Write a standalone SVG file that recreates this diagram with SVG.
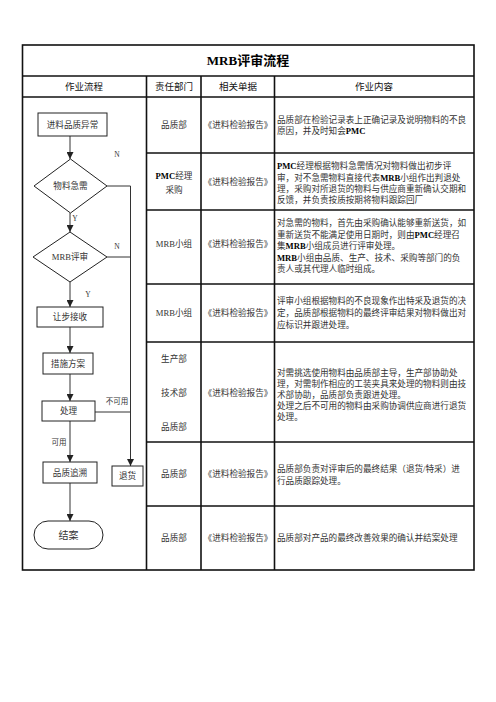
<svg xmlns="http://www.w3.org/2000/svg" width="496" height="702" viewBox="0 0 496 702">
<defs>
<marker id="ah" markerUnits="userSpaceOnUse" markerWidth="7" markerHeight="7" viewBox="0 0 7 7" refX="7" refY="3.5" orient="auto">
<path d="M0,0 L7,3.5 L0,7 Z" fill="#222"/>
</marker>
<style>
text{font-family:"Liberation Serif","Noto Sans CJK SC",serif;fill:#333;}
.t{font-size:8.6px;}
.c{text-anchor:middle;}
.hd{font-size:9.5px;text-anchor:middle;fill:#111;font-family:"Noto Sans CJK SC","Liberation Sans",sans-serif;}
.ttl{font-size:13px;font-weight:bold;text-anchor:middle;fill:#000;}
.b{font-weight:bold;fill:#000;}
.lbl{font-size:7.5px;text-anchor:middle;fill:#333;}
.box{fill:#fff;stroke:#222;stroke-width:1;}
.grid{stroke:#111;stroke-width:1.6;fill:none;}
.con{stroke:#333;stroke-width:1;fill:none;}
.ar{marker-end:url(#ah);}
</style>
</defs>
<rect x="0" y="0" width="496" height="702" fill="#fff"/>
<g id="table">
<rect x="22.5" y="45" width="451.5" height="525" class="grid" stroke-width="2"/>
<line x1="22.5" y1="76" x2="474" y2="76" class="grid"/>
<line x1="22.5" y1="97" x2="474" y2="97" class="grid"/>
<line x1="146.5" y1="76" x2="146.5" y2="570" class="grid"/>
<line x1="201" y1="76" x2="201" y2="570" class="grid"/>
<line x1="274.5" y1="76" x2="274.5" y2="570" class="grid"/>
<line x1="146.5" y1="153" x2="474" y2="153" class="grid"/>
<line x1="146.5" y1="210" x2="474" y2="210" class="grid"/>
<line x1="146.5" y1="284" x2="474" y2="284" class="grid"/>
<line x1="146.5" y1="342" x2="474" y2="342" class="grid"/>
<line x1="146.5" y1="442" x2="474" y2="442" class="grid"/>
<line x1="146.5" y1="506" x2="474" y2="506" class="grid"/>
<text x="248" y="65" class="ttl">MRB<tspan font-family="Noto Sans CJK SC">评审流程</tspan></text>
<text x="84" y="90" class="hd">作业流程</text>
<text x="174" y="90" class="hd">责任部门</text>
<text x="238" y="90" class="hd">相关单据</text>
<text x="374" y="90" class="hd">作业内容</text>
</g>
<g id="rows" class="t">
<text x="174" y="128" class="c">品质部</text>
<text x="238" y="128" class="c">《进料检验报告》</text>
<text x="277" y="123">品质部在检验记录表上正确记录及说明物料的不良</text>
<text x="277" y="134">原因，并及时知会<tspan class="b">PMC</tspan></text>

<text x="174" y="179" class="c"><tspan class="b">PMC</tspan>经理</text>
<text x="174" y="193" class="c">采购</text>
<text x="238" y="185" class="c">《进料检验报告》</text>
<text x="277" y="169"><tspan class="b">PMC</tspan>经理根据物料急需情况对物料做出初步评</text>
<text x="277" y="180.5">审，对不急需物料直接代表<tspan class="b">MRB</tspan>小组作出判退处</text>
<text x="277" y="192">理，采购对所退货的物料与供应商重新确认交期和</text>
<text x="277" y="203">反馈，并负责按质按期将物料跟踪回厂</text>

<text x="174" y="247" class="c">MRB小组</text>
<text x="238" y="247" class="c">《进料检验报告》</text>
<text x="277" y="226">对急需的物料，首先由采购确认能够重新送货，如</text>
<text x="277" y="237.5">重新送货不能满足使用日期时，则由<tspan class="b">PMC</tspan>经理召</text>
<text x="277" y="249">集<tspan class="b">MRB</tspan>小组成员进行评审处理。</text>
<text x="277" y="260.5"><tspan class="b">MRB</tspan>小组由品质、生产、技术、采购等部门的负</text>
<text x="277" y="272">责人或其代理人临时组成。</text>

<text x="174" y="316" class="c">MRB小组</text>
<text x="238" y="316" class="c">《进料检验报告》</text>
<text x="277" y="304">评审小组根据物料的不良现象作出特采及退货的决</text>
<text x="277" y="316">定，品质部根据物料的最终评审结果对物料做出对</text>
<text x="277" y="328">应标识并跟进处理。</text>

<text x="174" y="362" class="c">生产部</text>
<text x="174" y="396" class="c">技术部</text>
<text x="174" y="430" class="c">品质部</text>
<text x="238" y="396" class="c">《进料检验报告》</text>
<text x="277" y="376">对需挑选使用物料由品质部主导，生产部协助处</text>
<text x="277" y="387">理，对需制作相应的工装夹具来处理的物料则由技</text>
<text x="277" y="398">术部协助，品质部负责跟进处理。</text>
<text x="277" y="409">处理之后不可用的物料由采购协调供应商进行退货</text>
<text x="277" y="420">处理。</text>

<text x="174" y="477" class="c">品质部</text>
<text x="238" y="477" class="c">《进料检验报告》</text>
<text x="277" y="472">品质部负责对评审后的最终结果（退货/特采）进</text>
<text x="277" y="484">行品质跟踪处理。</text>

<text x="174" y="541" class="c">品质部</text>
<text x="238" y="541" class="c">《进料检验报告》</text>
<text x="277" y="541">品质部对产品的最终改善效果的确认并结案处理</text>
</g>
<g id="connectors">
<line x1="70" y1="136" x2="70" y2="159" class="con ar"/>
<line x1="70" y1="213" x2="70" y2="232" class="con ar"/>
<line x1="70" y1="282" x2="70" y2="307" class="con ar"/>
<line x1="70" y1="327" x2="70" y2="353" class="con ar"/>
<line x1="70" y1="374" x2="70" y2="401" class="con ar"/>
<line x1="70" y1="421" x2="70" y2="462" class="con ar"/>
<line x1="70" y1="483" x2="70" y2="521" class="con ar"/>
<path d="M107,186 H130.5 V466" class="con ar"/>
<line x1="107" y1="257" x2="130.5" y2="257" class="con"/>
<line x1="95" y1="412" x2="130.5" y2="412" class="con"/>
<text x="117" y="157" class="lbl">N</text>
<text x="75" y="221" class="lbl">Y</text>
<text x="117" y="249" class="lbl">N</text>
<text x="88" y="297" class="lbl">Y</text>
<text x="117" y="404" class="lbl">不可用</text>
<text x="59" y="445" class="lbl">可用</text>
</g>
<g id="n1"><rect x="38" y="113" width="69" height="23" class="box"/><text x="72.5" y="127.5" class="t c">进料品质异常</text></g>
<g id="n2"><polygon points="70.5,159 107,186 70.5,213 34,186" class="box"/><text x="70.5" y="189" class="t c">物料急需</text></g>
<g id="n3"><polygon points="70,232 107,257 70,282 33,257" class="box"/><text x="70" y="260" class="t c">MRB评审</text></g>
<g id="n4"><rect x="37" y="307" width="66" height="20" class="box"/><text x="70" y="320" class="t c">让步接收</text></g>
<g id="n5"><rect x="43" y="353" width="50" height="21" class="box"/><text x="68" y="366.5" class="t c">措施方案</text></g>
<g id="n6"><rect x="42" y="401" width="53" height="20" class="box"/><text x="68.5" y="414" class="t c">处理</text></g>
<g id="n7"><rect x="43" y="462" width="54" height="21" class="box"/><text x="70" y="475.5" class="t c">品质追溯</text></g>
<g id="n8"><rect x="112" y="466" width="31" height="20" class="box"/><text x="127.5" y="479" class="t c">退货</text></g>
<g id="n9"><rect x="34" y="521" width="69" height="28" rx="14" ry="14" class="box"/><text x="68.5" y="538.5" class="c" style="font-size:10px">结案</text></g>
</svg>
